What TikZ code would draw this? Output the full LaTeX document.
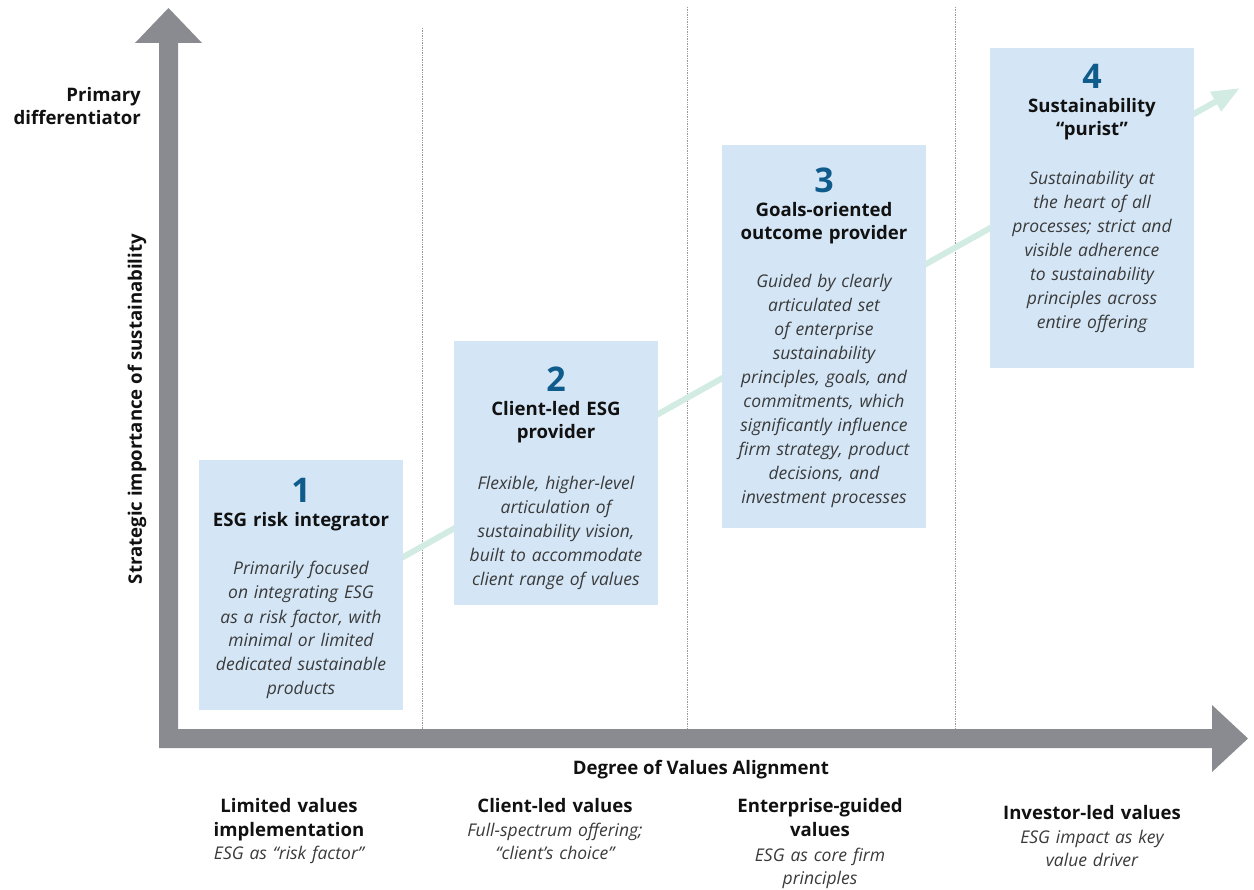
\documentclass[tikz,border=0pt]{standalone}
\usepackage{fontspec}
\setmainfont{Open Sans}
\usepackage{tikz}
\usetikzlibrary{arrows.meta}
\definecolor{axisgray}{HTML}{898B90}
\definecolor{boxblue}{HTML}{D4E6F6}
\definecolor{numblue}{HTML}{0F5C8C}
\definecolor{trendgreen}{HTML}{D3ECE3}
\definecolor{textgray}{HTML}{3A3A3A}
\definecolor{headblack}{HTML}{111111}

\begin{document}
\begin{tikzpicture}[x=1pt,y=-1pt,
    stage box/.style={fill=boxblue,inner sep=0pt,anchor=north west},
    stage num/.style={anchor=base,inner sep=0pt,text=numblue,font=\fontsize{34}{40}\selectfont\bfseries},
    stage head/.style={anchor=base,inner sep=0pt,text width=200pt,align=center,text=headblack,font=\fontsize{18.6}{23}\selectfont\bfseries},
    stage text/.style={anchor=base,inner sep=0pt,text width=200pt,align=center,text=textgray,font=\fontsize{17.5}{24}\selectfont\itshape},
    col head/.style={anchor=base,inner sep=0pt,text width=250pt,align=center,text=headblack,font=\fontsize{18.6}{24}\selectfont\bfseries},
    col text/.style={anchor=base,inner sep=0pt,text width=250pt,align=center,text=textgray,font=\fontsize{17.5}{23.5}\selectfont\itshape},
    axis label/.style={inner sep=0pt,text=headblack,font=\fontsize{18.6}{23}\selectfont\bfseries},
    sep line/.style={densely dotted,draw=gray!80,line width=0.7pt},
    trend/.style={draw=trendgreen,line width=6pt,-{Triangle[length=28pt,width=21pt]}}]
  \useasboundingbox (0,0) rectangle (1254,890);

  % column separators
  \draw[sep line] (422,28) -- (422,729);
  \draw[sep line] (687,7) -- (687,729);
  \draw[sep line] (955,7) -- (955,729);

  % trend arrow behind the boxes
  \coordinate (tr0) at (380,570);
  \coordinate (tr1) at (1240,88);
  \draw[trend] (tr0) -- (tr1);

  % stage 1
  \node[stage box,minimum width=204pt,minimum height=250pt] (s1) at (199,460) {};
  \node[stage num] (n1) at (301,503) {1};
  \node[stage head] (h1) at (301,527) {ESG risk integrator};
  \node[stage text] (t1) at (301,575) {Primarily focused\\on integrating ESG\\as a risk factor, with\\minimal or limited\\dedicated sustainable\\products};

  % stage 2
  \node[stage box,minimum width=204pt,minimum height=264pt] (s2) at (454,341) {};
  \node[stage num] (n2) at (556,392) {2};
  \node[stage head] (h2) at (556,416) {Client-led ESG\\provider};
  \node[stage text] (t2) at (556,490) {Flexible, higher-level\\articulation of\\sustainability vision,\\built to accommodate\\client range of values};

  % stage 3
  \node[stage box,minimum width=204pt,minimum height=383pt] (s3) at (722,145) {};
  \node[stage num] (n3) at (824,193) {3};
  \node[stage head] (h3) at (824,217) {Goals-oriented\\outcome provider};
  \node[stage text] (t3) at (824,288) {Guided by clearly\\articulated set\\of enterprise\\sustainability\\principles, goals, and\\commitments, which\\significantly influence\\firm strategy, product\\decisions, and\\investment processes};

  % stage 4
  \node[stage box,minimum width=204pt,minimum height=320pt] (s4) at (990,48) {};
  \node[stage num] (n4) at (1092,89) {4};
  \node[stage head] (h4) at (1092,113) {Sustainability\\“purist”};
  \node[stage text] (t4) at (1092,185) {Sustainability at\\the heart of all\\processes; strict and\\visible adherence\\to sustainability\\principles across\\entire offering};

  % axes
  \fill[axisgray] (159,43) -- (135,43) -- (168.5,8) -- (202,43) -- (178,43) -- (178,729)
    -- (1212,729) -- (1212,705) -- (1248,738.5) -- (1212,772) -- (1212,748) -- (159,748) -- cycle;

  % axis labels
  \node[axis label,anchor=base east] (pd) at (141,102) {Primary};
  \node[axis label,anchor=base east] (pd2) at (141,125) {differentiator};
  \node[axis label,rotate=90] (ya) at (137,409) {Strategic importance of sustainability};
  \node[axis label,anchor=base] (xa) at (701,774) {Degree of Values Alignment};

  % column labels
  \node[col head] (c1) at (289,812) {Limited values\\implementation};
  \node[col text] (d1) at (289,859) {ESG as “risk factor”};
  \node[col head] (c2) at (555,812) {Client-led values};
  \node[col text] (d2) at (555,836) {Full-spectrum offering;\\“client’s choice”};
  \node[col head] (c3) at (820,812) {Enterprise-guided\\values};
  \node[col text] (d3) at (820,861) {ESG as core firm\\principles};
  \node[col head] (c4) at (1092,819) {Investor-led values};
  \node[col text] (d4) at (1092,843) {ESG impact as key\\value driver};
\end{tikzpicture}
\end{document}
